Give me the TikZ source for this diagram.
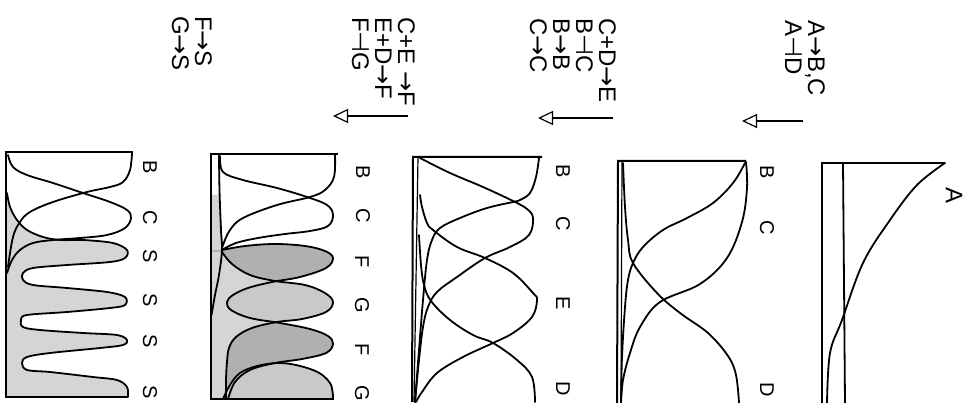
\documentclass[tikz,border=0pt]{standalone}
\usepackage{fontspec}
\setmainfont{Liberation Sans}
\newfontfamily\symf{DejaVu Sans}
\usetikzlibrary{arrows.meta}
\newcommand\myra{{\symf →}}
\newcommand\mytk{{\symf ⊣}}
\begin{document}
\begin{tikzpicture}[x=1pt,y=-1pt,
  cv/.style={line width=1.8pt, line join=round, line cap=round},
  boxedge/.style={line width=2pt, line join=miter},
  rx/.style={rotate=-90, inner sep=0pt, anchor=north west, align=left, font=\fontsize{24}{23}\selectfont},
  lab/.style={rotate=-90, inner sep=0pt, font=\fontsize{20}{20}\selectfont},
  arr/.style={line width=1.2pt, -{Triangle[open,length=15pt,width=14pt,line width=1.2pt]}},
  fL/.style={fill=gray!33},
  fG/.style={fill=gray!42},
  fF/.style={fill=gray!62}]
\useasboundingbox (0,0) rectangle (966,403);

% ---------------- texts ----------------
\node[rx] (t1) at (825,20) {A\myra B,C\\A\mytk D};
\node[rx] (t2) at (616,18) {C+D\myra E\\B\mytk C\\B\myra B\\C\myra C};
\node[rx] (t3) at (415,17) {C+E \myra F\\E+D\myra F\\F\mytk G};
\node[rx] (t4) at (212,16) {F\myra S\\G\myra S};

% ---------------- arrows ----------------
\coordinate (a1s) at (803,121); \coordinate (a1e) at (742,121);
\coordinate (a2s) at (613,118); \coordinate (a2e) at (538,118);
\coordinate (a3s) at (408,116); \coordinate (a3e) at (333,116);
\draw[arr] (a1s) -- (a1e);
\draw[arr] (a2s) -- (a2e);
\draw[arr] (a3s) -- (a3e);

% ---------------- panel 1 ----------------
\draw[boxedge] (822,403) -- (822,163) -- (945,163);
\draw[cv] (843,163) -- (845,403);
\draw[cv] plot[smooth,tension=.6] coordinates {(945,163) (917,185) (890,220) (863,263) (842,320) (830,353) (827,403)};
\node[lab,font=\fontsize{24}{24}\selectfont] (l1a) at (954,196) {A};

% ---------------- panel 2 ----------------
\draw[boxedge] (617,403) -- (618,161) -- (746,161);
\draw[line width=1.2pt] (622,161) -- (621,403);
\draw[cv] plot[smooth,tension=.6] coordinates {(746,162) (747,188) (742,222) (727,258) (700,284) (660,302) (640,327) (630,353) (623,380) (621,403)};
\draw[cv] plot[smooth,tension=.6] coordinates {(745,163) (733,183) (713,203) (687,218) (663,230) (643,247) (633,263) (628,280) (625,307) (622,357) (621,403)};
\draw[cv] plot[smooth,tension=.6] coordinates {(623,163) (625,207) (628,240) (633,263) (657,293) (680,313) (708,333) (728,356) (736,375) (739,403)};
\node[lab] (l2b) at (767,172) {B};
\node[lab] (l2c) at (767,228) {C};
\node[lab] (l2d) at (767,390) {D};

% ---------------- panel 3 ----------------
\draw[boxedge] (412,402) -- (413,157) -- (542,157);
\draw[line width=1.2pt] (418,157) -- (414,402);
\draw[cv] plot[smooth,tension=.6] coordinates {(539,158) (536,177) (530,193) (520,200) (513,202) (487,208) (460,218) (440,228) (432,240) (427,260) (423,300) (419,350) (415,402)};
\draw[cv] plot[smooth,tension=.6] coordinates {(420,158) (450,173) (483,187) (513,201) (527,209) (533,218) (529,235) (510,247) (485,258) (457,277) (437,292) (428,307) (423,327) (419,360) (415,402)};
\draw[cv] plot[smooth,tension=.6] coordinates {(420,195) (422,207) (427,223) (433,230) (457,247) (485,258) (513,273) (533,293) (537,300) (532,317) (513,333) (493,343) (463,357) (437,373) (422,392) (416,402)};
\draw[cv] plot[smooth,tension=.6] coordinates {(419,235) (421,265) (424,285) (431,301) (450,320) (473,335) (493,343) (517,360) (532,377) (535,402)};
\node[lab] (l3b) at (563,171) {B};
\node[lab] (l3c) at (563,224) {C};
\node[lab] (l3e) at (563,303) {E};
\node[lab] (l3d) at (563,389) {D};

% ---------------- panel 4 ----------------
\fill[fL] (211,195) -- plot[smooth,tension=.6] coordinates {(219.5,195) (221,230) (222,250)} -- (211,250) -- cycle;
\fill[fF] (211,250) -- plot[smooth,tension=.6] coordinates {(222,250) (245,246) (275,244) (305,246) (325,251) (333,258) (326,268) (300,277) (272,282) (248,288) (233,295) (227,302) (231,310) (250,318) (280,323) (310,329) (328,336) (333,344) (326,353) (302,359) (275,363) (250,370) (235,382) (228,399)} -- (211,399) -- cycle;
\fill[fG] (211,252) -- plot[smooth,tension=.6] coordinates {(222,252) (232,264) (250,275) (275,281) (305,285) (325,293) (333,302) (326,312) (302,319) (277,322) (252,328) (236,337) (229,348) (227,362) (226,380) (226,399)} -- (211,399) -- cycle;
\fill[fG] plot[smooth,tension=.6] coordinates {(223,399) (240,373) (277,363) (313,370) (330,383) (333,399)} -- cycle;
\begin{scope}
\clip (211,252) -- plot[smooth,tension=.6] coordinates {(222,252) (232,264) (250,275) (275,281) (305,285) (325,293) (333,302) (326,312) (302,319) (277,322) (252,328) (236,337) (229,348) (227,362) (226,380) (226,399)} -- (211,399) -- cycle
      plot[smooth,tension=.6] coordinates {(223,399) (240,373) (277,363) (313,370) (330,383) (333,399)} -- cycle;
\fill[fL] (211,250) -- plot[smooth,tension=.6] coordinates {(222,250) (245,246) (275,244) (305,246) (325,251) (333,258) (326,268) (300,277) (272,282) (248,288) (233,295) (227,302) (231,310) (250,318) (280,323) (310,329) (328,336) (333,344) (326,353) (302,359) (275,363) (250,370) (235,382) (228,399)} -- (211,399) -- cycle;
\end{scope}
\draw[cv] plot[smooth,tension=.6] coordinates {(219,154) (219.5,190) (221,230) (222,250) (219,275) (215,295) (211.5,315)};
\draw[cv] plot[smooth,tension=.6] coordinates {(335,155) (334,177) (325,190) (310,197) (277,205) (243,218) (230,230) (223,245) (222,250)};
\draw[cv] plot[smooth,tension=.6] coordinates {(220,156) (223,172) (243,180) (277,188) (307,197) (327,205) (333,215) (328,226) (310,231) (285,234) (258,238) (236,243) (222,250)};
\draw[cv] plot[smooth,tension=.6] coordinates {(222,250) (245,246) (275,244) (305,246) (325,251) (333,258) (326,268) (300,277) (272,282) (248,288) (233,295) (227,302) (231,310) (250,318) (280,323) (310,329) (328,336) (333,344) (326,353) (302,359) (275,363) (250,370) (235,382) (228,399)};
\draw[cv] plot[smooth,tension=.6] coordinates {(222,252) (232,264) (250,275) (275,281) (305,285) (325,293) (333,302) (326,312) (302,319) (277,322) (252,328) (236,337) (229,348) (227,362) (226,380) (226,399)};
\draw[cv] plot[smooth,tension=.6] coordinates {(223,399) (240,373) (277,363) (313,370) (330,383) (333,399)};
\draw[boxedge] (334,399) -- (211,399) -- (211,154) -- (338,154);
\node[lab] (l4b) at (363,172) {B};
\node[lab] (l4c) at (363,216) {C};
\node[lab] (l4f) at (362,262) {F};
\node[lab] (l4g) at (362,305) {G};
\node[lab] (l4f2) at (362,350) {F};
\node[lab] (l4g2) at (362,393) {G};

% ---------------- panel 5 ----------------
\fill[fL] (6,193) -- plot[smooth,tension=.55] coordinates {(7,193) (10,207) (17,220) (27,230) (43,237) (60,240) (83,240) (113,243) (127,250) (125,258) (110,262) (67,265) (33,268) (23,273) (23,280) (33,285) (67,288) (107,292) (125,297) (125,305) (110,308) (67,312) (27,315) (21,320) (23,327) (40,330) (83,333) (117,335) (127,340) (123,345) (100,348) (50,353) (27,357) (22,363) (27,370) (50,372) (93,377) (117,380) (127,387) (128,397)} -- (6,397) -- cycle;
\draw[cv] plot[smooth,tension=.55] coordinates {(7,193) (10,207) (17,220) (27,230) (43,237) (60,240) (83,240) (113,243) (127,250) (125,258) (110,262) (67,265) (33,268) (23,273) (23,280) (33,285) (67,288) (107,292) (125,297) (125,305) (110,308) (67,312) (27,315) (21,320) (23,327) (40,330) (83,333) (117,335) (127,340) (123,345) (100,348) (50,353) (27,357) (22,363) (27,370) (50,372) (93,377) (117,380) (127,387) (128,397)};
\draw[cv] plot[smooth,tension=.6] coordinates {(132,153) (130,170) (123,182) (110,187) (87,192) (53,202) (30,212) (20,222) (13,237) (8,267)};
\draw[cv] plot[smooth,tension=.6] coordinates {(8,155) (13,167) (27,175) (53,183) (83,193) (110,202) (127,210) (131,218) (125,228) (107,235) (80,238) (53,240) (33,243) (20,250) (12,260) (7,273)};
\draw[boxedge] (128,397) -- (6,397) -- (6,152) -- (133,152);
\node[lab] (l5b) at (150,167) {B};
\node[lab] (l5c) at (150,218) {C};
\node[lab] (l5s1) at (150,256) {S};
\node[lab] (l5s2) at (150,300) {S};
\node[lab] (l5s3) at (150,341) {S};
\node[lab] (l5s4) at (150,392) {S};
\end{tikzpicture}
\end{document}
